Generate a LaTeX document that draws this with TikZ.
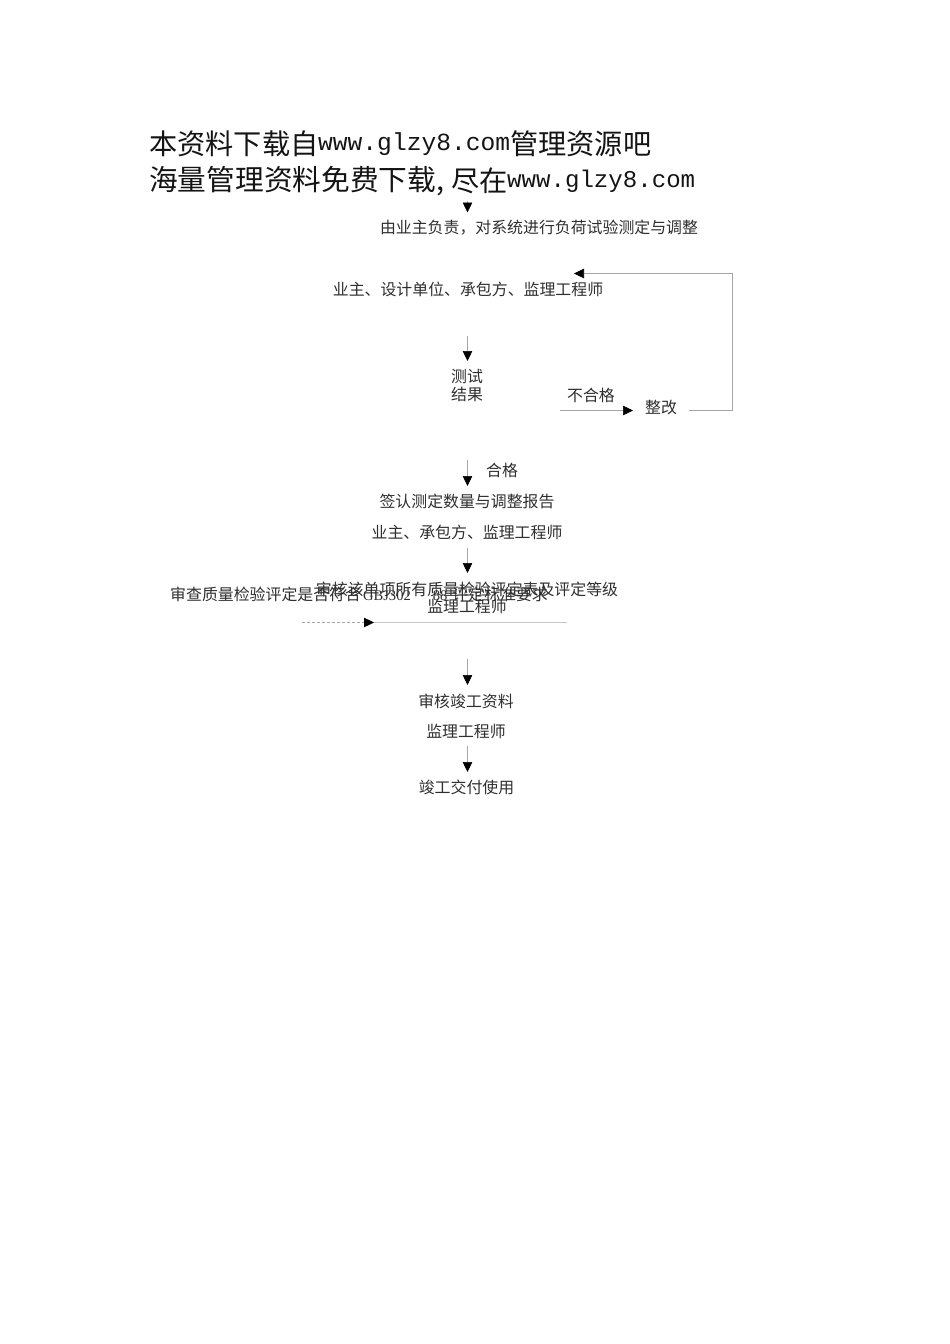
\documentclass[tikz,border=0pt]{standalone}
\usepackage{fontspec}
\setmainfont{Liberation Serif}
\newfontfamily\cjk{Noto Sans CJK SC}
\newfontfamily\wmlatin{Liberation Mono}
\newfontfamily\lat{Liberation Serif}
\usetikzlibrary{arrows.meta}
\tikzset{
  lab/.style={inner sep=0pt,text height=13pt,text depth=2.9pt,text=black!82,font=\cjk\fontsize{15.9}{18}\selectfont,align=center},
  wm/.style={inner sep=0pt,anchor=west,text=black!92,font=\cjk\fontsize{28.2}{30}\selectfont},
  wml/.style={inner sep=0pt,anchor=west,text=black!92,font=\wmlatin\fontsize{24.6}{30}\selectfont},
  conn/.style={draw=black!35,line width=0.6pt,-{Triangle[length=10pt,width=9.5pt,fill=black,color=black]}}
}
\begin{document}
\begin{tikzpicture}[x=1pt,y=-1pt]
\useasboundingbox (0,0) rectangle (950,1344);
% watermark
\node[wm] (w1a) at (149,144) {本资料下载自};
\node[wml] (w1b) at (318,144) {www.glzy8.com};
\node[wm] (w1c) at (510,144) {管理资源吧};
\node[wm,font=\cjk\fontsize{28.7}{30}\selectfont] (w2a) at (149,181) {海量管理资料免费下载,};
\node[wm] (w2c) at (451,181) {尽在};
\node[wml,font=\wmlatin\fontsize{24.1}{30}\selectfont] (w2b) at (507,181) {www.glzy8.com};
% text
\node[lab] (n1) at (539,228) {由业主负责，对系统进行负荷试验测定与调整};
\node[lab] (n2) at (468,290) {业主、设计单位、承包方、监理工程师};
\node[lab,anchor=north] (n3) at (467,387) {测试\\结果};
\node[lab] (fail) at (591,396) {不合格};
\node[lab] (fix) at (661,408) {整改};
\node[lab] (pass) at (502,471) {合格};
\node[lab] (n4) at (467,502) {签认测定数量与调整报告};
\node[lab] (n5) at (467,533) {业主、承包方、监理工程师};
\node[lab] (n6) at (467,590) {审核该单项所有质量检验评定表及评定等级};
\node[lab,anchor=west] (n7) at (170,595) {审查质量检验评定是否符合\hspace{2pt}{\lat\fontsize{14.6}{18}\selectfont GBJ302}\hspace{22pt}{\lat\fontsize{14.6}{18}\selectfont 88}\hspace{5pt}评定标准要求};
\node[lab] (n8) at (467,607) {监理工程师};
\node[lab] (n9) at (466,702) {审核竣工资料};
\node[lab] (n10) at (466,732) {监理工程师};
\node[lab] (n11) at (466.5,788) {竣工交付使用};
% free ends
\coordinate (t0) at (467.5,201);
\coordinate (t1) at (467.5,212.5);
\coordinate (a2) at (467.5,336);
\coordinate (b2) at (467.5,361);
\coordinate (a3) at (467.5,460);
\coordinate (b3) at (467.5,486);
\coordinate (a4) at (467.5,548);
\coordinate (b4) at (467.5,573);
\coordinate (a5) at (467.5,659);
\coordinate (b5) at (467.5,685);
\coordinate (a6) at (467.5,746);
\coordinate (b6) at (467.5,772);
\coordinate (l3) at (560,410.5);
\coordinate (r3) at (633,410.5);
\coordinate (f3) at (689,410.5);
\coordinate (corner1) at (732.5,410.5);
\coordinate (corner2) at (732.5,273.5);
\coordinate (back) at (574,273.5);
\coordinate (h1) at (302,622.5);
\coordinate (h2) at (374,622.5);
\coordinate (h3) at (567,622.5);
% connectors
\draw[conn] (t0) -- (t1);
\draw[conn] (a2) -- (b2);
\draw[conn] (a3) -- (b3);
\draw[conn] (a4) -- (b4);
\draw[conn] (a5) -- (b5);
\draw[conn] (a6) -- (b6);
\draw[conn] (l3) -- (r3);
\draw[conn] (f3) -- (corner1) -- (corner2) -- (back);
\draw[draw=black!22,line width=1.2pt] (h3) -- (h2);
\draw[conn,densely dashed,line width=0.4pt] (h1) -- (h2);
\end{tikzpicture}
\end{document}
